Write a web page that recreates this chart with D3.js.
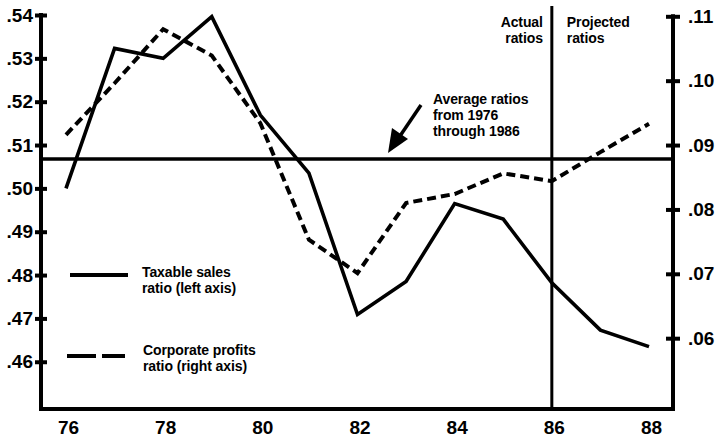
<!DOCTYPE html>
<html>
<head>
<meta charset="utf-8">
<script src="https://d3js.org/d3.v7.min.js"></script>
<style>
  body { margin: 0; background: #fff; }
  text { font-family: "Liberation Sans", Arial, Helvetica, sans-serif; font-weight: bold; fill: #000; }
  .tick-label { font-size: 19px; }
  .note { font-size: 14px; letter-spacing: -0.1px; }
</style>
</head>
<body>
<div id="chart"></div>
<script>
// data
var years = [76, 77, 78, 79, 80, 81, 82, 83, 84, 85, 86, 87, 88];
var salesRatio = [0.500, 0.5323, 0.5300, 0.5396, 0.5169, 0.5035, 0.4709, 0.4785, 0.4965, 0.4929, 0.4782, 0.4673, 0.4635];
var profitsRatio = [0.0916, 0.0996, 0.1080, 0.1039, 0.0934, 0.0753, 0.0701, 0.0810, 0.0824, 0.0856, 0.0844, 0.0889, 0.0933];
var averageSales = 0.5068;
var splitYear = 86;
var xTicks = [76, 78, 80, 82, 84, 86, 88];
var leftTicks = [0.46, 0.47, 0.48, 0.49, 0.50, 0.51, 0.52, 0.53, 0.54];
var rightTicks = [0.06, 0.07, 0.08, 0.09, 0.10, 0.11];

var width = 718, height = 440;
var plot = {left: 41, right: 673, top: 15, bottom: 409};

var svg = d3.select("#chart").append("svg")
    .attr("width", width)
    .attr("height", height);

// scales
var x = d3.scaleLinear().domain([76, 88]).range([66, 649]);
var yLeft = d3.scaleLinear().domain([0.4491, 0.54]).range([plot.bottom, plot.top]);
var yRight = d3.scaleLinear().domain([0.049, 0.11]).range([plot.bottom, 16.3]);

var fmt = function(d) { return d3.format(".2f")(d).replace(/^0/, ""); };

// multi-line text block, one text element with tspans
function block(px, py, lines, anchor) {
  var t = svg.append("text")
      .attr("class", "note")
      .attr("x", px)
      .attr("y", py)
      .attr("text-anchor", anchor || "start");
  lines.forEach(function(s, i) {
    t.append("tspan")
        .attr("x", px)
        .attr("dy", i === 0 ? 0 : 16)
        .text(s);
  });
  return t;
}

// left axis
var leftAxis = svg.append("g")
    .attr("transform", "translate(" + plot.left + ",0)")
    .call(d3.axisLeft(yLeft).tickValues(leftTicks).tickFormat(fmt).tickSize(6));
leftAxis.select(".domain").remove();
leftAxis.selectAll(".tick line").attr("x1", 6).attr("stroke", "#000").attr("stroke-width", 4);
leftAxis.selectAll(".tick text").attr("class", "tick-label").attr("x", -8);
leftAxis.attr("font-size", null).attr("font-family", null);

svg.append("line")
    .attr("x1", plot.left).attr("x2", plot.left)
    .attr("y1", yLeft(0.54) - 2).attr("y2", plot.bottom + 2)
    .attr("stroke", "#000").attr("stroke-width", 4);

// right axis
var rightAxis = svg.append("g")
    .attr("transform", "translate(" + plot.right + ",0)")
    .call(d3.axisRight(yRight).tickValues(rightTicks).tickFormat(fmt).tickSize(7));
rightAxis.select(".domain").remove();
rightAxis.selectAll(".tick line").attr("x1", -7).attr("stroke", "#000").attr("stroke-width", 4);
rightAxis.selectAll(".tick text").attr("class", "tick-label").attr("x", 15);
rightAxis.attr("font-size", null).attr("font-family", null);

svg.append("line")
    .attr("x1", plot.right).attr("x2", plot.right)
    .attr("y1", yRight(0.11) - 2).attr("y2", plot.bottom + 2)
    .attr("stroke", "#000").attr("stroke-width", 4);

// bottom axis, labels only
var bottomAxis = svg.append("g")
    .attr("transform", "translate(0," + plot.bottom + ")")
    .call(d3.axisBottom(x).tickValues(xTicks).tickFormat(d3.format("d")).tickSize(0));
bottomAxis.select(".domain").remove();
bottomAxis.selectAll(".tick text").attr("class", "tick-label").attr("dx", 2).attr("y", 12);
bottomAxis.attr("font-size", null).attr("font-family", null);

svg.append("line")
    .attr("x1", plot.left - 2).attr("x2", plot.right + 2)
    .attr("y1", plot.bottom).attr("y2", plot.bottom)
    .attr("stroke", "#000").attr("stroke-width", 4);

// average line
svg.append("line")
    .attr("x1", plot.left).attr("x2", plot.right)
    .attr("y1", yLeft(averageSales)).attr("y2", yLeft(averageSales))
    .attr("stroke", "#000").attr("stroke-width", 3.5);

// actual / projected divider
svg.append("line")
    .attr("x1", x(splitYear)).attr("x2", x(splitYear))
    .attr("y1", 6).attr("y2", plot.bottom)
    .attr("stroke", "#000").attr("stroke-width", 3);

// the two series
var salesLine = d3.line()
    .x(function(d, i) { return x(years[i]); })
    .y(function(d) { return yLeft(d); });

var profitsLine = d3.line()
    .x(function(d, i) { return x(years[i]); })
    .y(function(d) { return yRight(d); });

svg.append("path")
    .datum(profitsRatio)
    .attr("d", profitsLine)
    .attr("fill", "none")
    .attr("stroke", "#000")
    .attr("stroke-width", 4)
    .attr("stroke-dasharray", "9,5");

svg.append("path")
    .datum(salesRatio)
    .attr("d", salesLine)
    .attr("fill", "none")
    .attr("stroke", "#000")
    .attr("stroke-width", 3.6)
    .attr("stroke-linejoin", "miter");

// legend
svg.append("line")
    .attr("x1", 70).attr("x2", 128).attr("y1", 275).attr("y2", 275)
    .attr("stroke", "#000").attr("stroke-width", 4);
block(142, 277, ["Taxable sales", "ratio (left axis)"]);

svg.append("line")
    .attr("x1", 67).attr("x2", 125).attr("y1", 356).attr("y2", 356)
    .attr("stroke", "#000").attr("stroke-width", 4)
    .attr("stroke-dasharray", "29,6");
block(143, 355, ["Corporate profits", "ratio (right axis)"]);

// annotations
block(433, 104, ["Average ratios", "from 1976", "through 1986"]);

svg.append("line")
    .attr("x1", 421).attr("x2", 400).attr("y1", 105).attr("y2", 136)
    .attr("stroke", "#000").attr("stroke-width", 3.5);
svg.append("path")
    .attr("d", "M388,153 L392,128 L408,139 Z")
    .attr("fill", "#000");

block(x(splitYear) - 9, 27, ["Actual", "ratios"], "end");
block(x(splitYear) + 15, 27, ["Projected", "ratios"]);
</script>
</body>
</html>
